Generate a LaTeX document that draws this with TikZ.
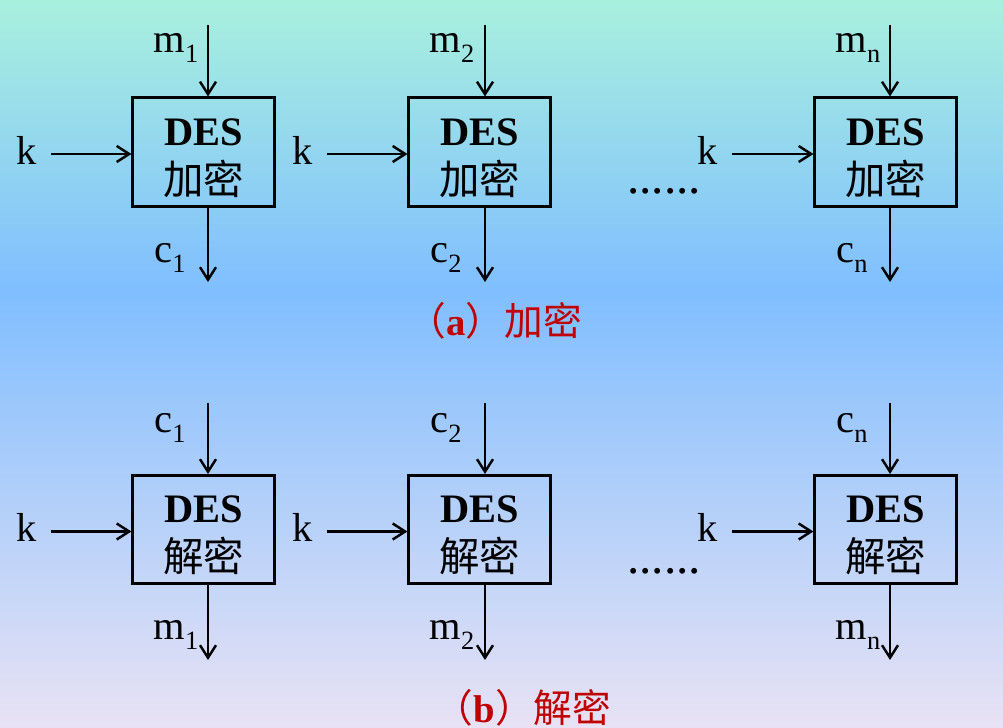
\documentclass[tikz,border=0pt]{standalone}
\usepackage{fontspec}
\setmainfont{Liberation Serif}
\newfontfamily\cjk{Noto Sans CJK SC}
\usetikzlibrary{arrows.meta,calc}
\definecolor{desTop}{RGB}{168,240,222}
\definecolor{desMid}{RGB}{128,190,255}
\definecolor{desBot}{RGB}{232,226,244}
\definecolor{desRed}{RGB}{192,0,0}
\newcommand\lowsub[1]{\raisebox{-2.8pt}{\fontsize{7.5}{8}\selectfont #1}}
\newcommand\desup{\rule{0pt}{11pt}\textbf{DES}}

\begin{document}
\begin{tikzpicture}[x=0.01cm, y=-0.01cm,
    blk/.style={rectangle, draw=black, line width=0.85pt, minimum width=1.41cm,
                minimum height=1.08cm, align=center, inner sep=0pt,
                font=\fontsize{11.5}{14}\selectfont},
    lbl/.style={font=\fontsize{11.5}{13}\selectfont, inner sep=1pt},
    arr/.style={line width=0.7pt, -{Straight Barb[length=1.25mm,width=1.6mm]}},
    captext/.style={font=\fontsize{11}{13}\selectfont, text=desRed},
    dots/.style={font=\fontsize{14}{14}\selectfont, inner sep=0pt}
  ]
  % background
  \shade[top color=desTop, bottom color=desMid] (0,0) rectangle (1003,290);
  \shade[top color=desMid, bottom color=desBot] (0,290) rectangle (1003,728);
  \useasboundingbox (0,0) rectangle (1003,728);

  % (a) encryption
  \node[blk] (e1) at (203.5,152) {\desup\\{\cjk 加密}};
  \node[blk] (e2) at (479.5,152) {\desup\\{\cjk 加密}};
  \node[blk] (e3) at (885.5,152) {\desup\\{\cjk 加密}};

  \node[lbl] (em1) at (176,48) {m\lowsub{1}};
  \node[lbl] (em2) at (452,48) {m\lowsub{2}};
  \node[lbl] (em3) at (858,48) {m\lowsub{n}};
  \node[lbl] (ec1) at (170,258) {c\lowsub{1}};
  \node[lbl] (ec2) at (446,258) {c\lowsub{2}};
  \node[lbl] (ec3) at (852,258) {c\lowsub{n}};
  \node[lbl] (ek1) at (27,150) {k};
  \node[lbl] (ek2) at (303,150) {k};
  \node[lbl] (ek3) at (708,150) {k};

  \coordinate (ein1) at (208,25);
  \coordinate (ein2) at (485,25);
  \coordinate (ein3) at (890,25);
  \coordinate (eout1) at (208,282);
  \coordinate (eout2) at (485,282);
  \coordinate (eout3) at (890,282);

  \draw[arr] (ein1) -- (ein1 |- e1.north);
  \draw[arr] (ein2) -- (ein2 |- e2.north);
  \draw[arr] (ein3) -- (ein3 |- e3.north);
  \draw[arr] (eout1 |- e1.south) -- (eout1);
  \draw[arr] (eout2 |- e2.south) -- (eout2);
  \draw[arr] (eout3 |- e3.south) -- (eout3);
  \draw[arr] ($(ek1.east |- e1)+(10,2)$) -- (e1.west |- 0,154);
  \draw[arr] ($(ek2.east |- e2)+(10,2)$) -- (e2.west |- 0,154);
  \draw[arr] ($(ek3.east |- e3)+(10,2)$) -- (e3.west |- 0,154);

  \node[dots] (edots) at (664,191) {......};
  \node[captext] (capa) at (495,321) {{\cjk （}\textbf{a}{\cjk ）加密}};

  % (b) decryption
  \node[blk] (d1) at (203.5,529.5) {\desup\\{\cjk 解密}};
  \node[blk] (d2) at (479.5,529.5) {\desup\\{\cjk 解密}};
  \node[blk] (d3) at (885.5,529.5) {\desup\\{\cjk 解密}};

  \node[lbl] (dc1) at (170,428) {c\lowsub{1}};
  \node[lbl] (dc2) at (446,428) {c\lowsub{2}};
  \node[lbl] (dc3) at (852,428) {c\lowsub{n}};
  \node[lbl] (dm1) at (176,635) {m\lowsub{1}};
  \node[lbl] (dm2) at (452,635) {m\lowsub{2}};
  \node[lbl] (dm3) at (858,635) {m\lowsub{n}};
  \node[lbl] (dk1) at (27,527) {k};
  \node[lbl] (dk2) at (303,527) {k};
  \node[lbl] (dk3) at (708,527) {k};

  \coordinate (din1) at (208,403);
  \coordinate (din2) at (485,403);
  \coordinate (din3) at (890,403);
  \coordinate (dout1) at (208,660);
  \coordinate (dout2) at (485,660);
  \coordinate (dout3) at (890,660);

  \draw[arr] (din1) -- (din1 |- d1.north);
  \draw[arr] (din2) -- (din2 |- d2.north);
  \draw[arr] (din3) -- (din3 |- d3.north);
  \draw[arr] (dout1 |- d1.south) -- (dout1);
  \draw[arr] (dout2 |- d2.south) -- (dout2);
  \draw[arr] (dout3 |- d3.south) -- (dout3);
  \draw[arr] ($(dk1.east |- d1)+(10,2)$) -- (d1.west |- 0,531.5);
  \draw[arr] ($(dk2.east |- d2)+(10,2)$) -- (d2.west |- 0,531.5);
  \draw[arr] ($(dk3.east |- d3)+(10,2)$) -- (d3.west |- 0,531.5);

  \node[dots] (ddots) at (664,571) {......};
  \node[captext] (capb) at (523,708) {{\cjk （}\textbf{b}{\cjk ）解密}};
\end{tikzpicture}
\end{document}
